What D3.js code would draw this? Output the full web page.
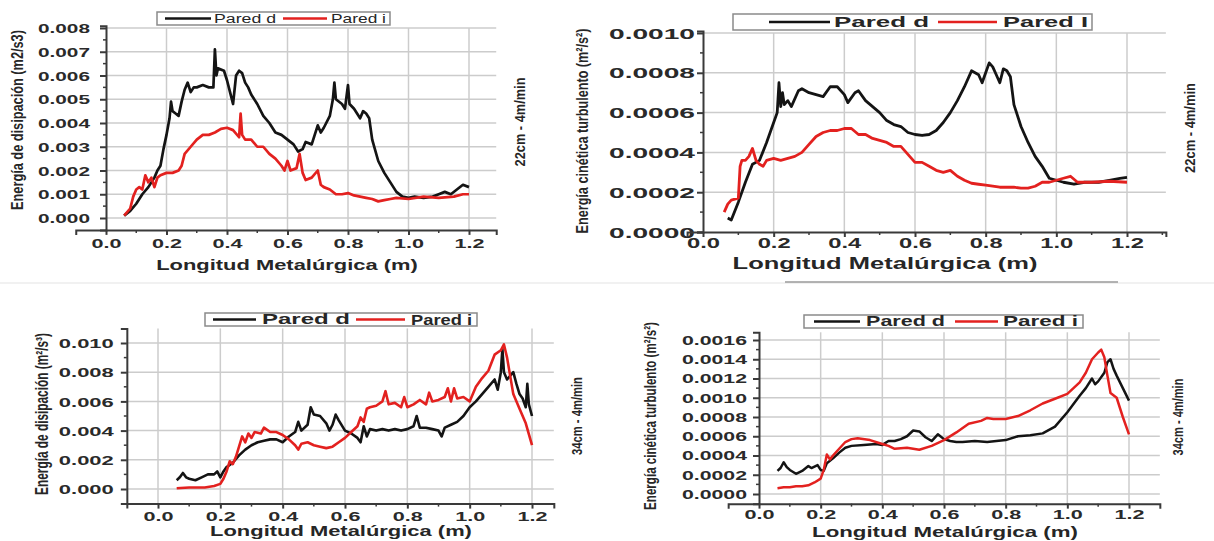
<!DOCTYPE html>
<html><head><meta charset="utf-8">
<script src="https://cdn.jsdelivr.net/npm/d3@7"></script>
<style>
body{margin:0;background:#fff}
svg{display:block}
text{font-family:"Liberation Sans",Arial,sans-serif;fill:#262626}
</style>
</head><body>
<svg id="c" width="1214" height="541"></svg>
<script>
// ---------------- DATA ----------------
const xTickValues = [0.0, 0.2, 0.4, 0.6, 0.8, 1.0, 1.2];
const seriesNames = ["Pared d", "Pared i"];
const seriesNamesTR = ["Pared d", "Pared I"];
const xTitle = "Longitud Metalúrgica (m)";

// Panel 1: dissipation, 22cm - 4m/min
const disip22Ticks = [0, 0.001, 0.002, 0.003, 0.004, 0.005, 0.006, 0.007, 0.008];
const disip22D = [[0.06,0.0001],[0.08,0.0003],[0.10,0.0006],[0.12,0.0010],[0.14,0.0013],[0.16,0.0017],[0.17,0.0020],[0.18,0.0022],[0.19,0.0029],[0.20,0.0035],[0.21,0.0042],[0.215,0.0049],[0.22,0.0045],[0.23,0.0044],[0.24,0.0043],[0.25,0.0049],[0.26,0.0054],[0.27,0.0057],[0.28,0.0053],[0.29,0.0055],[0.30,0.0055],[0.32,0.0056],[0.34,0.0055],[0.355,0.0055],[0.36,0.0071],[0.365,0.0060],[0.37,0.0063],[0.39,0.0062],[0.40,0.0058],[0.41,0.0053],[0.42,0.0048],[0.43,0.0060],[0.44,0.0062],[0.45,0.0061],[0.46,0.0057],[0.47,0.0055],[0.48,0.0052],[0.50,0.0048],[0.52,0.0043],[0.54,0.0040],[0.56,0.0036],[0.58,0.0035],[0.60,0.0033],[0.62,0.0031],[0.635,0.0028],[0.65,0.0029],[0.66,0.0032],[0.68,0.0031],[0.69,0.0035],[0.70,0.0039],[0.71,0.0036],[0.72,0.0038],[0.74,0.0043],[0.75,0.0050],[0.755,0.0057],[0.76,0.0050],[0.78,0.0048],[0.79,0.0046],[0.80,0.0056],[0.805,0.0048],[0.82,0.0046],[0.84,0.0042],[0.85,0.0045],[0.86,0.0044],[0.87,0.0042],[0.88,0.0033],[0.90,0.0024],[0.92,0.0019],[0.94,0.0015],[0.96,0.0011],[0.98,0.0009],[1.00,0.00085],[1.02,0.0009],[1.05,0.00085],[1.08,0.0009],[1.10,0.0010],[1.12,0.0011],[1.14,0.0010],[1.16,0.0012],[1.18,0.0014],[1.20,0.0013]];
const disip22I = [[0.06,0.0001],[0.08,0.0004],[0.09,0.0009],[0.10,0.0012],[0.11,0.0013],[0.12,0.0012],[0.13,0.0018],[0.14,0.0015],[0.15,0.0017],[0.16,0.0013],[0.17,0.0017],[0.18,0.0018],[0.20,0.0019],[0.22,0.0019],[0.24,0.0020],[0.25,0.0022],[0.26,0.0027],[0.28,0.0030],[0.30,0.0033],[0.32,0.0035],[0.34,0.0035],[0.36,0.0036],[0.38,0.00375],[0.40,0.0038],[0.42,0.0037],[0.44,0.0034],[0.445,0.0044],[0.45,0.0035],[0.46,0.0033],[0.48,0.0033],[0.50,0.0030],[0.52,0.0030],[0.54,0.0027],[0.56,0.0025],[0.58,0.0022],[0.59,0.0020],[0.60,0.0024],[0.61,0.0020],[0.63,0.0021],[0.64,0.0027],[0.65,0.0019],[0.66,0.0016],[0.68,0.0017],[0.70,0.0020],[0.71,0.0014],[0.72,0.0013],[0.74,0.0012],[0.76,0.0010],[0.78,0.0010],[0.80,0.00105],[0.82,0.00095],[0.84,0.0009],[0.86,0.00085],[0.88,0.0008],[0.90,0.0007],[0.92,0.00075],[0.94,0.0008],[0.96,0.00085],[1.00,0.0008],[1.05,0.0009],[1.10,0.00085],[1.15,0.0009],[1.18,0.0010],[1.20,0.0010]];

// Panel 2: turbulent kinetic energy, 22cm - 4m/min
const tke22Ticks = [0, 0.0002, 0.0004, 0.0006, 0.0008, 0.0010];
const tke22D = [[0.07,0.00007],[0.08,0.00006],[0.10,0.00015],[0.12,0.00025],[0.14,0.00034],[0.16,0.00036],[0.18,0.00045],[0.20,0.00055],[0.21,0.00060],[0.215,0.00075],[0.22,0.00063],[0.225,0.00070],[0.23,0.00064],[0.24,0.00066],[0.25,0.00063],[0.27,0.00071],[0.28,0.00072],[0.30,0.00070],[0.32,0.00069],[0.34,0.00068],[0.36,0.00073],[0.38,0.00073],[0.40,0.00069],[0.41,0.00065],[0.43,0.00070],[0.44,0.00071],[0.46,0.00066],[0.48,0.00063],[0.50,0.00060],[0.52,0.00056],[0.54,0.00054],[0.56,0.00053],[0.58,0.00050],[0.60,0.00049],[0.62,0.000485],[0.64,0.00049],[0.66,0.00051],[0.68,0.00055],[0.70,0.00060],[0.72,0.00066],[0.74,0.00073],[0.76,0.00081],[0.77,0.00080],[0.78,0.00079],[0.79,0.00075],[0.80,0.00080],[0.81,0.00085],[0.82,0.00083],[0.83,0.00079],[0.84,0.00075],[0.85,0.00082],[0.86,0.00081],[0.87,0.00078],[0.88,0.00064],[0.90,0.00053],[0.92,0.00045],[0.94,0.00038],[0.96,0.00033],[0.98,0.00027],[1.00,0.00026],[1.02,0.00025],[1.05,0.00024],[1.08,0.00025],[1.10,0.00025],[1.12,0.00025],[1.15,0.00026],[1.18,0.00027],[1.20,0.000275]];
const tke22I = [[0.06,0.00010],[0.07,0.00014],[0.08,0.00016],[0.10,0.00017],[0.105,0.00033],[0.11,0.00036],[0.12,0.00036],[0.13,0.00038],[0.14,0.00042],[0.15,0.00036],[0.16,0.00034],[0.17,0.00033],[0.18,0.00036],[0.20,0.00037],[0.22,0.00036],[0.24,0.00037],[0.26,0.00038],[0.28,0.00040],[0.30,0.00044],[0.32,0.00048],[0.34,0.00050],[0.36,0.00051],[0.38,0.00051],[0.40,0.00052],[0.42,0.00052],[0.44,0.00049],[0.46,0.00049],[0.48,0.00047],[0.50,0.00046],[0.52,0.00045],[0.54,0.00043],[0.56,0.00043],[0.58,0.00039],[0.60,0.00035],[0.62,0.00035],[0.64,0.00033],[0.66,0.00031],[0.68,0.00030],[0.70,0.00031],[0.72,0.00028],[0.74,0.00026],[0.76,0.000245],[0.78,0.00024],[0.80,0.000235],[0.84,0.000225],[0.88,0.000225],[0.90,0.00022],[0.92,0.00022],[0.94,0.00023],[0.96,0.00025],[0.98,0.00025],[1.00,0.00026],[1.02,0.00027],[1.04,0.00028],[1.06,0.00025],[1.10,0.00025],[1.15,0.000255],[1.20,0.00025]];

// Panel 3: dissipation, 34cm - 4m/min
const disip34Ticks = [0, 0.002, 0.004, 0.006, 0.008, 0.010];
const disip34D = [[0.06,0.0006],[0.07,0.0008],[0.08,0.0011],[0.09,0.0008],[0.10,0.0007],[0.12,0.0006],[0.14,0.0008],[0.16,0.0010],[0.18,0.0010],[0.19,0.0012],[0.20,0.0008],[0.21,0.0012],[0.22,0.0015],[0.24,0.0018],[0.26,0.0023],[0.28,0.0027],[0.30,0.0030],[0.32,0.0032],[0.34,0.0033],[0.36,0.0034],[0.38,0.0034],[0.40,0.0032],[0.42,0.0036],[0.44,0.0039],[0.45,0.0046],[0.46,0.0040],[0.48,0.0044],[0.49,0.0056],[0.50,0.0051],[0.52,0.0050],[0.54,0.0045],[0.55,0.0040],[0.56,0.0044],[0.57,0.0051],[0.58,0.0047],[0.60,0.0040],[0.62,0.0038],[0.64,0.0035],[0.65,0.0032],[0.66,0.0043],[0.67,0.0036],[0.68,0.0041],[0.70,0.0040],[0.72,0.0041],[0.74,0.0040],[0.76,0.0041],[0.78,0.0040],[0.80,0.0041],[0.82,0.0043],[0.83,0.0050],[0.84,0.0042],[0.86,0.0042],[0.88,0.0041],[0.90,0.0040],[0.91,0.0036],[0.92,0.0042],[0.94,0.0044],[0.96,0.0046],[0.98,0.0050],[1.00,0.0056],[1.02,0.0060],[1.04,0.0065],[1.06,0.0070],[1.08,0.0075],[1.09,0.0068],[1.10,0.0080],[1.105,0.0096],[1.11,0.0080],[1.12,0.0075],[1.14,0.0080],[1.15,0.0072],[1.16,0.0065],[1.17,0.0062],[1.18,0.0056],[1.185,0.0072],[1.19,0.0058],[1.20,0.0050]];
const disip34I = [[0.06,0.00005],[0.10,0.0001],[0.15,0.0001],[0.18,0.0002],[0.20,0.00035],[0.21,0.0007],[0.22,0.0012],[0.23,0.0019],[0.24,0.0017],[0.25,0.0022],[0.26,0.0029],[0.27,0.0036],[0.28,0.0032],[0.29,0.0038],[0.30,0.0035],[0.31,0.0039],[0.33,0.0038],[0.34,0.0042],[0.36,0.0039],[0.38,0.0039],[0.40,0.0037],[0.42,0.0034],[0.44,0.0030],[0.45,0.0027],[0.46,0.0031],[0.48,0.0032],[0.50,0.0030],[0.52,0.0029],[0.54,0.0028],[0.56,0.0029],[0.58,0.0032],[0.60,0.0035],[0.62,0.0039],[0.64,0.0043],[0.65,0.0049],[0.66,0.0046],[0.67,0.0055],[0.68,0.0056],[0.70,0.0057],[0.72,0.0060],[0.73,0.0067],[0.74,0.0058],[0.76,0.0059],[0.78,0.0056],[0.79,0.0063],[0.80,0.0056],[0.82,0.0058],[0.84,0.0061],[0.86,0.0058],[0.87,0.0066],[0.88,0.0060],[0.90,0.0061],[0.92,0.0063],[0.93,0.0069],[0.94,0.0060],[0.95,0.0069],[0.96,0.0062],[0.98,0.0063],[1.00,0.0060],[1.02,0.0070],[1.04,0.0076],[1.06,0.0081],[1.08,0.0092],[1.10,0.0095],[1.11,0.0099],[1.12,0.0090],[1.14,0.0065],[1.16,0.0055],[1.18,0.0045],[1.20,0.0030]];

// Panel 4: turbulent kinetic energy, 34cm - 4m/min
const tke34Ticks = [0, 0.0002, 0.0004, 0.0006, 0.0008, 0.0010, 0.0012, 0.0014, 0.0016];
const tke34D = [[0.06,0.00024],[0.07,0.00027],[0.08,0.00033],[0.09,0.00028],[0.10,0.00025],[0.12,0.00021],[0.14,0.00024],[0.16,0.00029],[0.17,0.00027],[0.19,0.00030],[0.20,0.00025],[0.21,0.00024],[0.22,0.00032],[0.24,0.00037],[0.26,0.00043],[0.28,0.00048],[0.30,0.00050],[0.34,0.00051],[0.38,0.00052],[0.40,0.00051],[0.42,0.00055],[0.44,0.00055],[0.46,0.00057],[0.48,0.00060],[0.50,0.00066],[0.52,0.00065],[0.54,0.00059],[0.56,0.00055],[0.58,0.00062],[0.60,0.00057],[0.62,0.00055],[0.64,0.00054],[0.66,0.00054],[0.70,0.00055],[0.74,0.00054],[0.80,0.00056],[0.84,0.00060],[0.88,0.00061],[0.92,0.00063],[0.96,0.00070],[1.00,0.00085],[1.04,0.00102],[1.06,0.00110],[1.08,0.00120],[1.09,0.00114],[1.10,0.00117],[1.12,0.00126],[1.13,0.00137],[1.14,0.00140],[1.15,0.00130],[1.16,0.00123],[1.18,0.00110],[1.20,0.00097]];
const tke34I = [[0.06,0.00006],[0.08,0.00007],[0.10,0.00007],[0.12,0.00008],[0.14,0.00008],[0.16,0.00009],[0.18,0.00012],[0.20,0.00016],[0.21,0.00025],[0.22,0.00041],[0.23,0.00036],[0.24,0.00040],[0.26,0.00047],[0.28,0.00054],[0.30,0.00057],[0.32,0.00058],[0.36,0.00056],[0.40,0.00052],[0.42,0.00050],[0.44,0.00047],[0.48,0.00048],[0.52,0.00046],[0.56,0.00050],[0.60,0.00056],[0.64,0.00064],[0.68,0.00073],[0.72,0.00076],[0.74,0.00079],[0.76,0.00078],[0.80,0.00078],[0.84,0.00081],[0.88,0.00087],[0.92,0.00094],[0.96,0.00099],[1.00,0.00104],[1.02,0.00110],[1.04,0.00116],[1.06,0.00126],[1.08,0.00140],[1.10,0.00147],[1.11,0.00150],[1.12,0.00142],[1.13,0.00123],[1.14,0.00105],[1.16,0.00100],[1.18,0.00080],[1.20,0.00062]];

// ---------------- DRAWING ----------------
const svg = d3.select("#c");
const BLACK = "#141414", RED = "#e3211f", GRID = "#cccccc", AXIS = "#3a3a3a";

svg.append("line").attr("x1",0).attr("x2",1214).attr("y1",283).attr("y2",283).attr("stroke","#ececec").attr("stroke-width",1.5);
svg.append("line").attr("x1",785).attr("x2",1118).attr("y1",282).attr("y2",282).attr("stroke","#9a9a9a").attr("stroke-width",1.5);

function fitText(sel, len){ sel.attr("textLength", len).attr("lengthAdjust","spacingAndGlyphs"); }

// place a text centred at (cx, cy), optionally rotated, squeezed/stretched horizontally to a target length
function placeText(g, str, cx, cy, len, fs, weight, rotate){
  const t = g.append("text").attr("text-anchor","middle").attr("dominant-baseline","central")
    .style("font-size", fs + "px").style("font-weight", weight).text(str);
  const nat = t.node().getComputedTextLength() || len;
  const s = len / nat;
  t.attr("transform", `translate(${cx},${cy})${rotate ? " rotate(-90)" : ""} scale(${s},1)`);
  return t;
}

function drawPanel(c){
  const g = svg.append("g");
  const x = d3.scaleLinear().domain([0,1.2]).range(c.xr);
  const y = d3.scaleLinear().domain([0,c.yTicks[c.yTicks.length-1]]).range(c.yr);
  const xA = d3.scaleLinear().domain(c.xExt).range(c.xExt.map(x));
  const yA = d3.scaleLinear().domain(c.yExt).range(c.yExt.map(y));

  // grids
  g.append("g").selectAll("line").data(c.yTicks.filter(v => v !== c.xAxisAt)).join("line")
    .attr("x1", x(c.yAxisAt)).attr("x2", x(c.xExt[1]))
    .attr("y1", d => y(d)).attr("y2", d => y(d))
    .attr("stroke", GRID).attr("stroke-width", 1.5);
  g.append("g").selectAll("line").data(xTickValues.filter(v => v !== c.yAxisAt)).join("line")
    .attr("x1", d => x(d)).attr("x2", d => x(d))
    .attr("y1", y(c.xAxisAt)).attr("y2", y(c.gridTop))
    .attr("stroke", GRID).attr("stroke-width", 1.5);

  // series
  const line = d3.line().x(d => x(d[0])).y(d => y(d[1]));
  g.append("path").datum(c.d).attr("d", line).attr("fill","none").attr("stroke",BLACK)
    .attr("stroke-width", c.lw).attr("stroke-linejoin","round");
  g.append("path").datum(c.i).attr("d", line).attr("fill","none").attr("stroke",RED)
    .attr("stroke-width", c.lw).attr("stroke-linejoin","round");

  // y axis
  const yAx = g.append("g").attr("transform", `translate(${x(c.yAxisAt)},0)`)
    .call(d3.axisLeft(yA).tickValues(c.yTicks).tickFormat(d3.format(c.yFmt)).tickSizeOuter(0).tickSize(6));
  yAx.select(".domain").attr("stroke", AXIS).attr("stroke-width", 2);
  yAx.selectAll(".tick line").attr("stroke", AXIS).attr("stroke-width", 2);
  yAx.selectAll(".tick text").attr("x", -c.yLabGap).attr("dy","0.36em")
    .style("font-size", c.tickFont + "px").style("font-weight","bold").style("fill","#2a2a2a")
    .style("font-family", '"Liberation Sans",Arial,sans-serif')
    .call(fitText, c.yLabLen);
  const yMinor = d3.pairs(c.yTicks).map(p => (p[0]+p[1])/2);
  g.append("g").selectAll("line").data(yMinor).join("line")
    .attr("x1", x(c.yAxisAt) - 3).attr("x2", x(c.yAxisAt))
    .attr("y1", d => y(d)).attr("y2", d => y(d)).attr("stroke", AXIS).attr("stroke-width", 1.5);

  // x axis
  const xAx = g.append("g").attr("transform", `translate(0,${y(c.xAxisAt)})`)
    .call(d3.axisBottom(xA).tickValues(xTickValues).tickFormat(d3.format(".1f")).tickSizeOuter(0).tickSize(5));
  xAx.select(".domain").attr("stroke", AXIS).attr("stroke-width", 2);
  xAx.selectAll(".tick line").attr("stroke", AXIS).attr("stroke-width", 2);
  xAx.selectAll(".tick text").attr("y", c.xLabGap).attr("dy","0.36em")
    .style("font-size", c.tickFont + "px").style("font-weight","bold").style("fill","#2a2a2a")
    .style("font-family", '"Liberation Sans",Arial,sans-serif')
    .call(fitText, c.xLabLen);
  const xMinor = d3.pairs(xTickValues).map(p => (p[0]+p[1])/2).concat([-0.1, 1.3]).filter(v => v > c.xExt[0] && v < c.xExt[1]);
  g.append("g").selectAll("line").data(xMinor).join("line")
    .attr("x1", d => x(d)).attr("x2", d => x(d))
    .attr("y1", y(c.xAxisAt)).attr("y2", y(c.xAxisAt) + 3).attr("stroke", AXIS).attr("stroke-width", 1.5);

  // titles
  placeText(g, xTitle, c.xt[0], c.xt[1], c.xt[2], c.xt[3], "bold", false);
  placeText(g, c.yTitle, c.yt[0], c.yt[1], c.yt[2], c.yt[3], "bold", true);
  placeText(g, c.rTitle, c.rt[0], c.rt[1], c.rt[2], c.rt[3], "bold", true);

  // legend
  const L = c.leg;
  g.append("rect").attr("x", L.box[0]).attr("y", L.box[2]).attr("width", L.box[1]-L.box[0]).attr("height", L.box[3]-L.box[2])
    .attr("fill","#fff").attr("stroke","#8a8a8a").attr("stroke-width",1.5);
  const my = (L.box[2]+L.box[3])/2;
  [[L.l1, BLACK],[L.l2, RED]].forEach(([s,col]) => {
    g.append("line").attr("x1", s[0]).attr("x2", s[1]).attr("y1", my).attr("y2", my).attr("stroke", col).attr("stroke-width", 2.5);
  });
  [L.t1, L.t2].forEach((t, k) => {
    placeText(g, c.names[k], (t[0]+t[1])/2, my, t[1]-t[0], L.fs, L.fw, false);
  });
}

const panels = [
  { d: disip22D, i: disip22I, yTicks: disip22Ticks, yFmt: ".3f", names: seriesNames,
    xr: [106, 469], yr: [218, 28], yAxisAt: 0, xAxisAt: -0.0005, xExt: [-0.1, 1.29], yExt: [-0.0005, 0.0081], gridTop: 0.008,
    lw: 2.7, tickFont: 13, yLabGap: 16, yLabLen: 52, xLabGap: 13, xLabLen: 30,
    yTitle: "Energía de disipación (m2/s3)", yt: [17, 120, 180, 17],
    xt: [287, 265, 262, 15], rTitle: "22cm - 4m/min", rt: [520, 122, 89, 15],
    leg: { box: [157, 390, 12, 25], l1: [165, 211], t1: [214, 276], l2: [283, 327], t2: [331, 386], fs: 12, fw: "normal" } },
  { d: tke22D, i: tke22I, yTicks: tke22Ticks, yFmt: ".4f", names: seriesNamesTR,
    xr: [703, 1127], yr: [232, 33], yAxisAt: 0, xAxisAt: 0, xExt: [-0.045, 1.31], yExt: [0, 0.00101], gridTop: 0.001,
    lw: 2.8, tickFont: 14, yLabGap: 8, yLabLen: 86, xLabGap: 11, xLabLen: 33,
    yTitle: "Energía cinética turbulento (m²/s²)", yt: [582, 131, 205, 17],
    xt: [885, 264, 305, 16], rTitle: "22cm - 4m/min", rt: [1190, 128, 90, 15],
    leg: { box: [733, 1092, 14, 30], l1: [769, 830], t1: [834, 929], l2: [938, 997], t2: [1003, 1088], fs: 15, fw: "bold" } },
  { d: disip34D, i: disip34I, yTicks: disip34Ticks, yFmt: ".3f", names: seriesNames,
    xr: [158, 532], yr: [489, 343], yAxisAt: -0.1, xAxisAt: -0.001, xExt: [-0.1, 1.27], yExt: [-0.001, 0.011], gridTop: 0.011,
    lw: 2.6, tickFont: 13, yLabGap: 13, yLabLen: 55, xLabGap: 13, xLabLen: 30,
    yTitle: "Energía de disipación (m²/s³)", yt: [42, 414, 162, 18],
    xt: [341, 531, 262, 14], rTitle: "34cm - 4m/min", rt: [577, 416, 78, 15],
    leg: { box: [205, 477, 313, 326], l1: [213, 256], t1: [262, 350], l2: [356, 405], t2: [411, 472], fs: 14, fw: "bold" } },
  { d: tke34D, i: tke34I, yTicks: tke34Ticks, yFmt: ".4f", names: seriesNames,
    xr: [759, 1129], yr: [494, 340], yAxisAt: 0, xAxisAt: -0.0001, xExt: [-0.1, 1.3], yExt: [-0.0001, 0.00168], gridTop: 0.00168,
    lw: 2.5, tickFont: 12, yLabGap: 12, yLabLen: 65, xLabGap: 11, xLabLen: 30,
    yTitle: "Energía cinética turbulento (m²/s²)", yt: [650, 416, 188, 16],
    xt: [945, 532, 266, 14], rTitle: "34cm - 4m/min", rt: [1178, 417, 77, 15],
    leg: { box: [804, 1083, 315, 328], l1: [814, 860], t1: [866, 945], l2: [955, 998], t2: [1003, 1078], fs: 14, fw: "bold" } }
];
panels.forEach(drawPanel);
</script>
</body></html>
